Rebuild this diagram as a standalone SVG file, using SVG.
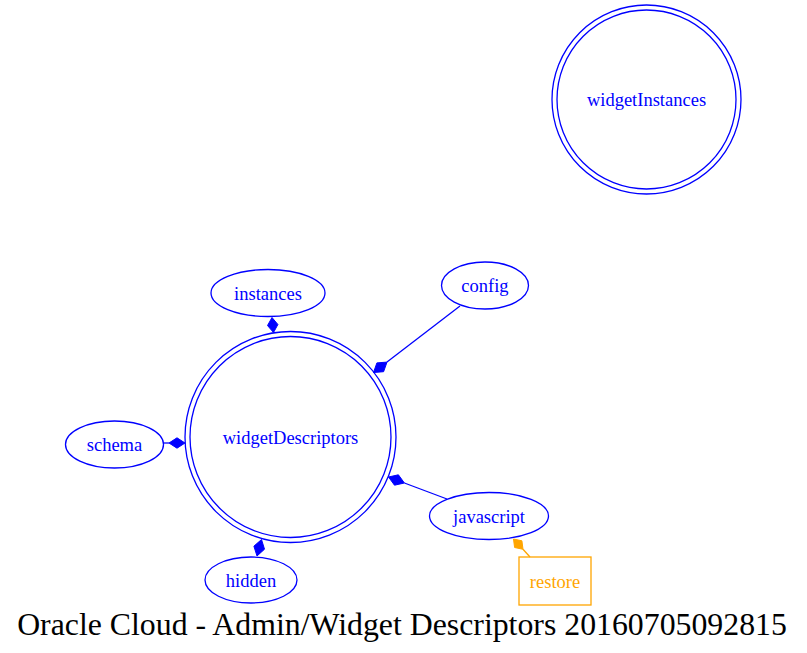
<svg xmlns="http://www.w3.org/2000/svg" width="807" height="653" viewBox="0 0 807 653">
<style>
.n{fill:none;stroke:#0000ff;stroke-width:1.3}
.t{font-family:"Liberation Serif","Times New Roman",serif;font-size:18.5px;fill:#0000ff;text-anchor:middle}
.e{stroke:#0000ff;stroke-width:1.3;fill:none}
.d{fill:#0000ff;stroke:#0000ff}
.o{fill:none;stroke:#ffa500;stroke-width:1.3}
.od{fill:#ffa500;stroke:#ffa500}
</style>
<rect width="807" height="653" fill="#ffffff"/>
<g id="connectors">
<g id="e-instances">
<polygon class="d" points="272,317.5 277.9,324.5 273.5,332.5 267.5,325.5"/>
</g>
<g id="e-config">
<line class="e" x1="460" y1="306" x2="387" y2="362.1"/>
<polygon class="d" points="387,362.1 383.6,371.7 373.5,372.5 376.9,362.9"/>
</g>
<g id="e-schema">
<line class="e" x1="163.5" y1="443" x2="169" y2="443"/>
<polygon class="d" points="169,443 177,437.8 185,443 177,448.2"/>
</g>
<g id="e-hidden">
<polygon class="d" points="261.5,539.5 264.5,549.2 257,556 253.9,546.2"/>
</g>
<g id="e-javascript">
<line class="e" x1="447" y1="499" x2="404.4" y2="483"/>
<polygon class="d" points="404.4,483 398.4,474.8 388.5,477 394.5,485.2"/>
</g>
<g id="e-restore">
<line class="o" x1="530" y1="557" x2="523" y2="549.3"/>
<polygon class="od" points="513.5,539 521.9,540.8 523,549.3 514.6,547.5"/>
</g>
</g>
<g id="widgetInstances">
<circle class="n" cx="646.5" cy="99.5" r="94.5"/>
<circle class="n" cx="646.5" cy="99.5" r="89.5"/>
<text class="t" x="646.5" y="106">widgetInstances</text>
</g>
<g id="widgetDescriptors">
<circle class="n" cx="290.5" cy="437" r="105.5"/>
<circle class="n" cx="290.5" cy="437" r="100.5"/>
<text class="t" x="290.5" y="443.5">widgetDescriptors</text>
</g>
<g id="instances">
<ellipse class="n" cx="268" cy="293" rx="57" ry="23.5"/>
<text class="t" x="268" y="299.5">instances</text>
</g>
<g id="config">
<ellipse class="n" cx="485" cy="285.5" rx="43.5" ry="23.5"/>
<text class="t" x="485" y="292">config</text>
</g>
<g id="schema">
<ellipse class="n" cx="114.5" cy="444.5" rx="49" ry="23.5"/>
<text class="t" x="114.5" y="451">schema</text>
</g>
<g id="hidden">
<ellipse class="n" cx="251" cy="580" rx="46" ry="23"/>
<text class="t" x="251" y="586.5">hidden</text>
</g>
<g id="javascript">
<ellipse class="n" cx="489" cy="516" rx="59.5" ry="23.5"/>
<text class="t" x="489" y="522.5">javascript</text>
</g>
<g id="restore">
<rect class="o" x="519" y="557" width="72" height="48"/>
<text class="t" x="555" y="587.5" style="fill:#ffa500">restore</text>
</g>
<text x="402" y="635" style="font-family:'Liberation Serif','Times New Roman',serif;font-size:31.8px;fill:#000000;text-anchor:middle">Oracle Cloud - Admin/Widget Descriptors 20160705092815</text>
</svg>
